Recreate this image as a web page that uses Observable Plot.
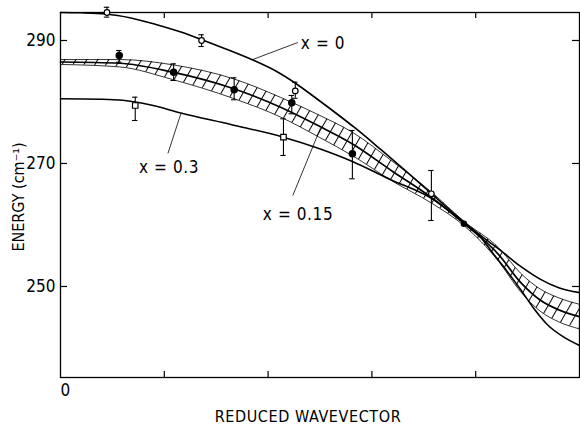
<!DOCTYPE html>
<html><head><meta charset="utf-8">
<script src="https://cdn.jsdelivr.net/npm/d3@7"></script>
<script src="https://cdn.jsdelivr.net/npm/@observablehq/plot@0.6"></script>
<style>
html,body{margin:0;padding:0;background:#fff;}
#chart{width:580px;height:425px;}
svg text{white-space:pre;}
</style></head><body><div id="chart"></div>
<script>
// ---- axis ticks ----
const qTicks = [0.1, 0.2, 0.3, 0.4];
const yTicks = [250, 270, 290];
const xTickLabels = [0];

// ---- model curves (reduced wavevector q, energy) ----
const qX0 = [0, 0.0197, 0.0438, 0.0679, 0.0919, 0.116, 0.1369, 0.1593, 0.1853, 0.2074, 0.2267, 0.2459, 0.2652, 0.2844, 0.3085, 0.3342, 0.3566, 0.373, 0.3886, 0.4047, 0.4175, 0.4304, 0.4432, 0.456, 0.4689, 0.4849, 0.5];
const eX0 = [294.55, 294.5, 294.31, 293.66, 292.6, 291.38, 290.08, 288.62, 286.83, 285.04, 283.01, 280.65, 278.21, 275.69, 272.28, 268.54, 265.2, 262.76, 260.49, 258.02, 255.2, 252.44, 249.51, 246.42, 243.82, 241.76, 240.41];

const qX03 = [0, 0.039, 0.0599, 0.0871, 0.116, 0.1641, 0.2148, 0.2503, 0.2812, 0.3176, 0.3566, 0.3886, 0.411, 0.423, 0.443, 0.462, 0.48, 0.5];
const eX03 = [280.52, 280.44, 280.28, 279.51, 278.21, 276.34, 274.28, 272.36, 270.33, 267.4, 264.4, 260.4, 257.5, 256.0, 253.3, 251.2, 249.8, 249.0];

// x = 0.15 band (centre line with upper / lower bounds)
const qBand = [0, 0.057, 0.108, 0.167, 0.212, 0.25, 0.281, 0.32, 0.357, 0.389, 0.422, 0.443, 0.462, 0.48, 0.5];
const eBandMid = [286.5, 286.3, 284.85, 282.15, 279.15, 276.0, 273.2, 268.7, 264.5, 260.2, 255.2, 250.7, 247.8, 246.2, 245.1];
const eBandHigh = [286.9, 286.9, 286.05, 283.75, 280.75, 277.8, 275.1, 270.3, 265.4, 260.55, 256.3, 252.2, 249.6, 248.15, 247.1];
const eBandLow = [286.1, 285.7, 283.65, 280.55, 277.55, 274.2, 271.3, 267.1, 263.6, 259.85, 254.1, 249.2, 246.0, 244.25, 243.1];

// ---- measured points ----
// x = 0 (open circles)
const qObs0 = [0.0448, 0.1359, 0.2262, 0.3573];
const eObs0 = [294.55, 290.0, 281.8, 265.07];
const eObs0Hi = [295.4, 290.93, 283.22, 268.86];
const eObs0Lo = [293.8, 289.02, 280.6, 260.73];
// x = 0.15 (filled circles)
const qObs15 = [0.0566, 0.109, 0.1673, 0.2228, 0.2812, 0.3886];
const eObs15 = [287.56, 284.85, 281.98, 279.87, 271.58, 260.2];
const eObs15Hi = [288.37, 286.2, 283.93, 281.06, 275.37, 260.2];
const eObs15Lo = [286.47, 283.5, 280.36, 278.08, 267.51, 260.2];
// x = 0.3 (open squares)
const qObs3 = [0.072, 0.2148];
const eObs3 = [279.43, 274.28];
const eObs3Hi = [280.78, 277.27];
const eObs3Lo = [276.99, 271.3];

// ---- annotations ----
const labelText = ["x = 0", "x = 0.3", "x = 0.15"];
const labelQ = [0.2315, 0.0756, 0.1949];
const labelE = [289.51, 269.35, 261.7];
const leaderQ1 = [0.1853, 0.116, 0.2238];
const leaderE1 = [286.91, 278.13, 264.8];
const leaderQ2 = [0.2286, 0.1035, 0.2507];
const leaderE2 = [289.67, 271.63, 275.85];

const xTitle = "REDUCED WAVEVECTOR";
const yTitle = "ENERGY (cm\u207B\u00B9)";

// ---- build tables ----
const toRows = (qs, es) => qs.map((q, i) => ({q, e: es[i]}));
const rowsX0 = toRows(qX0, eX0);
const rowsX03 = toRows(qX03, eX03);
const rowsMid = toRows(qBand, eBandMid);
const rowsBand = qBand.map((q, i) => ({q, lo: eBandLow[i], hi: eBandHigh[i]}));
const obs = (qs, es, his, los) => qs.map((q, i) => ({q, e: es[i], hi: his[i], lo: los[i]}));
const pts0 = obs(qObs0, eObs0, eObs0Hi, eObs0Lo);
const pts15 = obs(qObs15, eObs15, eObs15Hi, eObs15Lo);
const pts3 = obs(qObs3, eObs3, eObs3Hi, eObs3Lo);
const allPts = [...pts0, ...pts15, ...pts3].filter(d => d.hi > d.lo);
const labels = labelText.map((t, i) => ({t, q: labelQ[i], e: labelE[i]}));
const leaders = leaderQ1.map((q, i) => ({q1: q, e1: leaderE1[i], q2: leaderQ2[i], e2: leaderE2[i]}));

const W = 580, H = 425, mL = 60, mR = 1, mT = 12, mB = 48;
const plotW = W - mL - mR, plotH = H - mT - mB;
const cap = 0.0026;
const FONT = "'DejaVu Sans Condensed','Liberation Sans Narrow','DejaVu Sans',sans-serif";
const CURVE = "monotone-x";

const chart = Plot.plot({
  width: W, height: H,
  marginLeft: mL, marginRight: mR, marginTop: mT, marginBottom: mB,
  style: {fontFamily: FONT, fontSize: "16px", color: "black", background: "white"},
  x: {domain: [0, 0.5], axis: null},
  y: {domain: [235.2, 294.55], axis: null},
  marks: [
    Plot.areaY(rowsBand, {x: "q", y1: "lo", y2: "hi", fill: "url(#hatch)", curve: CURVE, className: "band"}),
    Plot.line(rowsBand, {x: "q", y: "hi", curve: CURVE, stroke: "black", strokeWidth: 0.8}),
    Plot.line(rowsBand, {x: "q", y: "lo", curve: CURVE, stroke: "black", strokeWidth: 0.8}),
    Plot.line(rowsMid, {x: "q", y: "e", curve: CURVE, stroke: "black", strokeWidth: 1.7}),
    Plot.line(rowsX0, {x: "q", y: "e", curve: CURVE, stroke: "black", strokeWidth: 1.6}),
    Plot.line(rowsX03, {x: "q", y: "e", curve: CURVE, stroke: "black", strokeWidth: 1.6}),
    Plot.frame({stroke: "black", strokeWidth: 1.3}),
    // inward ticks
    Plot.tickY(yTicks, {y: d => d, insetRight: plotW - 7, stroke: "black", strokeWidth: 1.2}),
    Plot.tickY(yTicks, {y: d => d, insetLeft: plotW - 7, stroke: "black", strokeWidth: 1.2}),
    Plot.tickX(qTicks, {x: d => d, insetTop: plotH - 6, stroke: "black", strokeWidth: 1.2}),
    Plot.tickX(qTicks, {x: d => d, insetBottom: plotH - 6, stroke: "black", strokeWidth: 1.2}),
    Plot.axisY({ticks: yTicks, tickSize: 0, tickPadding: 5, label: null, fontSize: 17, fill: "black"}),
    Plot.text(xTickLabels, {x: d => d, text: d => String(d), frameAnchor: "bottom", lineAnchor: "middle", dy: 13, textAnchor: "start", fontSize: 17, fill: "black"}),
    // error bars
    Plot.ruleX(allPts, {x: "q", y1: "lo", y2: "hi", stroke: "black", strokeWidth: 1.1}),
    Plot.ruleY(allPts, {y: "hi", x1: d => d.q - cap, x2: d => d.q + cap, stroke: "black", strokeWidth: 1.1}),
    Plot.ruleY(allPts, {y: "lo", x1: d => d.q - cap, x2: d => d.q + cap, stroke: "black", strokeWidth: 1.1}),
    // markers
    Plot.dot(pts0, {x: "q", y: "e", r: 2.8, fill: "white", stroke: "black", strokeWidth: 1.2}),
    Plot.dot(pts15, {x: "q", y: "e", r: d => d.hi > d.lo ? 3.2 : 2.2, fill: "black", stroke: "black"}),
    Plot.dot(pts3, {x: "q", y: "e", r: 3.1, symbol: "square", fill: "white", stroke: "black", strokeWidth: 1.2}),
    // annotations
    Plot.link(leaders, {x1: "q1", y1: "e1", x2: "q2", y2: "e2", stroke: "black", strokeWidth: 0.8}),
    Plot.text(labels, {x: "q", y: "e", text: "t", textAnchor: "start", fontSize: 17, fill: "black", className: "annot"}),
    Plot.text([xTitle], {frameAnchor: "bottom", lineAnchor: "middle", textAnchor: "middle", dx: -12, dy: 39, fontSize: 16, fill: "black", className: "xtitle"}),
    Plot.text([yTitle], {frameAnchor: "left", lineAnchor: "middle", textAnchor: "middle", dx: -42, dy: 2, rotate: -90, fontSize: 16, fill: "black", className: "ytitle"})
  ]
});

const svg = d3.select(chart);
const defs = svg.insert("defs", ":first-child");
const pat = defs.append("pattern").attr("id", "hatch")
  .attr("patternUnits", "userSpaceOnUse").attr("width", 9.5).attr("height", 9.5)
  .attr("patternTransform", "rotate(30)");
pat.append("rect").attr("width", 9.5).attr("height", 9.5).attr("fill", "white");
pat.append("line").attr("x1", 0.5).attr("y1", 0).attr("x2", 0.5).attr("y2", 9.5)
  .attr("stroke", "black").attr("stroke-width", 1);
svg.selectAll(".band path").attr("fill", "url(#hatch)");
svg.selectAll(".xtitle text").style("letter-spacing", "0.6px");
svg.selectAll(".annot text").style("letter-spacing", "0.6px");
document.getElementById("chart").appendChild(chart);
</script>
</body></html>
